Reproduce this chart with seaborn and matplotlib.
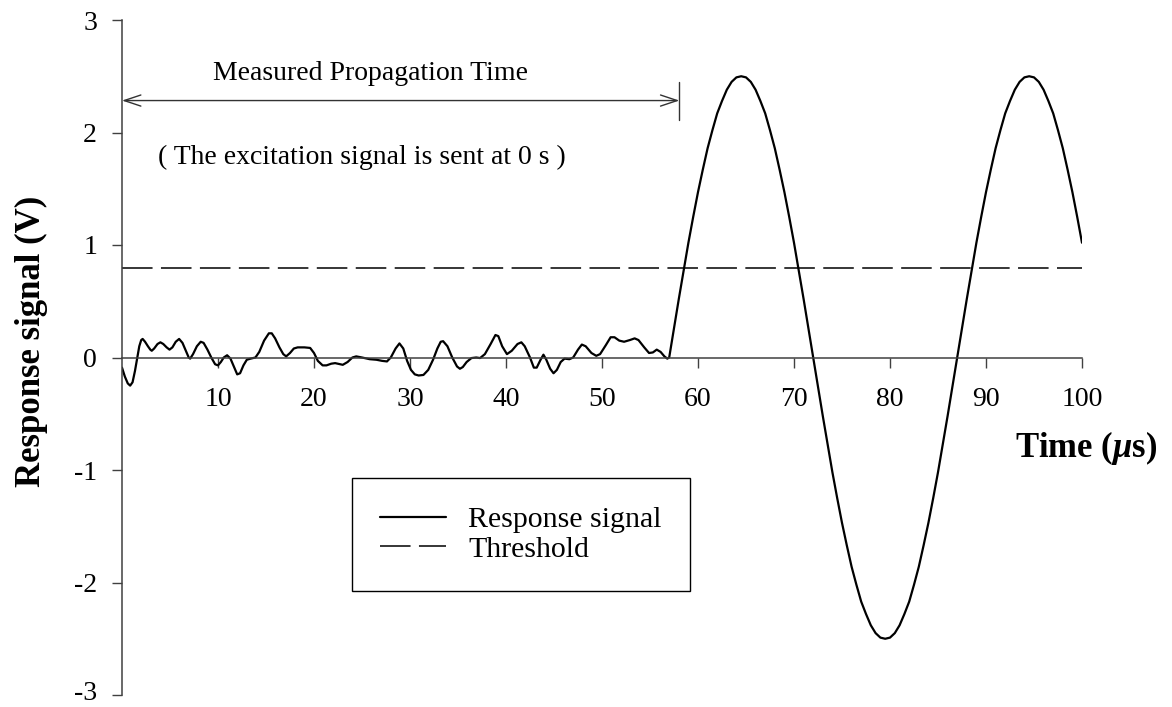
import numpy as np
import pandas as pd
import matplotlib
matplotlib.use("Agg")
import matplotlib.pyplot as plt
import matplotlib.transforms as mtransforms
import seaborn as sns

# ---------------- data ----------------
# noise part before the wave arrives (µs, V)
noise_time = [0.0, 0.3, 0.6, 0.85, 1.1, 1.35, 1.6, 1.8, 2.0, 2.15, 2.4, 2.7, 2.95, 3.1,
              3.35, 3.7, 4.0, 4.3, 4.65, 4.95, 5.25, 5.6, 5.95, 6.3, 6.7, 6.95, 7.1,
              7.4, 7.8, 8.2, 8.5, 8.9, 9.3, 9.7, 10.0, 10.3, 10.6, 10.95, 11.3, 11.7,
              12.0, 12.3, 12.65, 13.0, 13.4, 13.9, 14.3, 14.8, 15.3, 15.6, 15.95, 16.4,
              16.8, 17.1, 17.5, 17.9, 18.3, 19.0, 19.6, 20.0, 20.4, 20.9, 21.3, 21.8,
              22.2, 22.7, 23.0, 23.5, 24.0, 24.4, 25.0, 25.8, 26.5, 27.1, 27.6, 28.0,
              28.5, 28.9, 29.3, 29.7, 30.1, 30.5, 30.9, 31.4, 31.9, 32.4, 32.85, 33.2,
              33.45, 33.9, 34.4, 34.9, 35.2, 35.5, 35.9, 36.4, 36.9, 37.3, 37.8, 38.4,
              38.9, 39.2, 39.6, 40.1, 40.6, 41.2, 41.6, 41.95, 42.5, 42.9, 43.2, 43.6,
              43.9, 44.2, 44.6, 44.95, 45.3, 45.7, 46.1, 46.6, 47.0, 47.5, 47.9, 48.3,
              48.9, 49.4, 49.8, 50.4, 50.9, 51.3, 51.8, 52.3, 52.9, 53.4, 53.8, 54.4,
              54.9, 55.3, 55.7, 56.1, 56.5, 56.8]
noise_v = [-0.09, -0.17, -0.23, -0.25, -0.22, -0.12, 0.0, 0.10, 0.155, 0.165, 0.14, 0.10,
           0.07, 0.06, 0.08, 0.12, 0.135, 0.12, 0.09, 0.07, 0.09, 0.14, 0.165, 0.13, 0.05,
           0.0, -0.01, 0.03, 0.10, 0.14, 0.13, 0.07, 0.0, -0.06, -0.07, -0.04, 0.0, 0.02,
           -0.01, -0.09, -0.15, -0.14, -0.07, -0.02, -0.01, 0.0, 0.05, 0.15, 0.215, 0.215,
           0.17, 0.09, 0.03, 0.01, 0.04, 0.08, 0.09, 0.09, 0.085, 0.04, -0.03, -0.07,
           -0.07, -0.055, -0.05, -0.06, -0.065, -0.04, 0.0, 0.01, 0.0, -0.015, -0.02,
           -0.03, -0.035, 0.0, 0.08, 0.125, 0.08, -0.03, -0.11, -0.15, -0.16, -0.155,
           -0.11, -0.02, 0.08, 0.14, 0.145, 0.10, 0.0, -0.08, -0.10, -0.085, -0.04,
           -0.005, 0.0, -0.005, 0.03, 0.12, 0.20, 0.19, 0.10, 0.03, 0.06, 0.12, 0.135,
           0.10, 0.0, -0.09, -0.09, -0.02, 0.025, -0.02, -0.10, -0.14, -0.11, -0.04,
           -0.01, -0.015, 0.0, 0.07, 0.115, 0.10, 0.04, 0.015, 0.03, 0.11, 0.18, 0.18,
           0.15, 0.14, 0.155, 0.17, 0.155, 0.09, 0.04, 0.045, 0.07, 0.05, 0.01, -0.01]
# arriving wave (µs, V), read every 0.5 µs
wave_time = [57.0, 57.5, 58.0, 58.5, 59.0, 59.5, 60.0, 60.5, 61.0, 61.5, 62.0, 62.5,
             63.0, 63.5, 64.0, 64.5, 65.0, 65.5, 66.0, 66.5, 67.0, 67.5, 68.0, 68.5,
             69.0, 69.5, 70.0, 70.5, 71.0, 71.5, 72.0, 72.5, 73.0, 73.5, 74.0, 74.5,
             75.0, 75.5, 76.0, 76.5, 77.0, 77.5, 78.0, 78.5, 79.0, 79.5, 80.0, 80.5,
             81.0, 81.5, 82.0, 82.5, 83.0, 83.5, 84.0, 84.5, 85.0, 85.5, 86.0, 86.5,
             87.0, 87.5, 88.0, 88.5, 89.0, 89.5, 90.0, 90.5, 91.0, 91.5, 92.0, 92.5,
             93.0, 93.5, 94.0, 94.5, 95.0, 95.5, 96.0, 96.5, 97.0, 97.5, 98.0, 98.5,
             99.0, 99.5, 100.0]
wave_v = [0.0, 0.26, 0.52, 0.77, 1.02, 1.25, 1.47, 1.67, 1.86, 2.02, 2.17, 2.28,
          2.38, 2.45, 2.49, 2.50, 2.49, 2.45, 2.38, 2.28, 2.17, 2.02, 1.86, 1.67,
          1.47, 1.25, 1.02, 0.77, 0.52, 0.26, 0.0, -0.26, -0.52, -0.77, -1.02, -1.25,
          -1.47, -1.67, -1.86, -2.02, -2.17, -2.28, -2.38, -2.45, -2.49, -2.50, -2.49,
          -2.45, -2.38, -2.28, -2.17, -2.02, -1.86, -1.67, -1.47, -1.25, -1.02, -0.77,
          -0.52, -0.26, 0.0, 0.26, 0.52, 0.77, 1.02, 1.25, 1.47, 1.67, 1.86, 2.02,
          2.17, 2.28, 2.38, 2.45, 2.49, 2.50, 2.49, 2.45, 2.38, 2.28, 2.17, 2.02,
          1.86, 1.67, 1.47, 1.25, 1.02]
threshold_time = [0.0, 100.0]
threshold_v = [0.8, 0.8]

x_ticks = [10, 20, 30, 40, 50, 60, 70, 80, 90, 100]
y_ticks = [-3, -2, -1, 0, 1, 2, 3]
y_tick_labels = ["-3", "-2", "-1", "0", "1", "2", "3"]

measured_end = 58.06      # end of "Measured Propagation Time" arrow (µs)
arrow_level = 2.284

# ---------------- style ----------------
sns.set_style("ticks")
plt.rcParams["font.family"] = ["Liberation Serif", "DejaVu Serif"]
plt.rcParams["text.color"] = "black"
plt.rcParams["xtick.labelcolor"] = "black"
plt.rcParams["ytick.labelcolor"] = "black"
plt.rcParams["mathtext.fontset"] = "custom"
plt.rcParams["mathtext.it"] = "Liberation Serif:italic:bold"
plt.rcParams["mathtext.rm"] = "Liberation Serif:bold"
plt.rcParams["mathtext.bf"] = "Liberation Serif:bold"

fig = plt.figure(figsize=(11.72, 7.07), dpi=100)
ax = fig.add_axes([122 / 1172, 1 - 695 / 707, 960 / 1172, 675 / 707])

sig = pd.DataFrame({"t": noise_time + wave_time, "v": noise_v + wave_v})
thr = pd.DataFrame({"t": threshold_time, "v": threshold_v})

sns.lineplot(data=sig, x="t", y="v", ax=ax, color="black", lw=1.6,
             estimator=None, sort=False, label="Response signal")
sns.lineplot(data=thr, x="t", y="v", ax=ax, color="black", lw=1.1,
             estimator=None, sort=False, label="Threshold")
ax.lines[0].set_solid_joinstyle("round")
ax.lines[-1].set_dashes((20, 5.5))

ax.set_xlim(0, 100)
ax.set_ylim(-3, 3)

axis_color = "#404040"
for s in ["top", "right"]:
    ax.spines[s].set_visible(False)
ax.spines["left"].set_position(("data", 0))
ax.spines["bottom"].set_position(("data", 0))
for s in ["left", "bottom"]:
    ax.spines[s].set_color(axis_color)
    ax.spines[s].set_linewidth(1.1)

ax.set_xticks(x_ticks)
ax.set_xticklabels([str(v) for v in x_ticks])
ax.set_yticks(y_ticks)
ax.set_yticklabels(y_tick_labels)
ax.tick_params(axis="x", direction="out", length=7, width=1, color=axis_color,
               labelsize=20, pad=14, labelcolor="black")
ax.tick_params(axis="y", direction="out", length=7, width=1, color=axis_color,
               labelsize=20, pad=11, labelcolor="black")
ax.set_xlabel("")
ax.set_ylabel("")

# keep the lowest y tick label fully inside the canvas
lowest = ax.get_yticklabels()[0]
lowest.set_transform(lowest.get_transform() +
                     mtransforms.ScaledTranslation(0, 3 / 72, fig.dpi_scale_trans))

# axis titles
fig.text(31 / 1172, 1 - 341 / 707, "Response signal (V)", rotation=90,
         ha="center", va="center", fontsize=25, fontweight="bold", color="black")
fig.text(1086 / 1172, 1 - 457 / 707, r"Time ($\mu$s)", ha="center",
         va="baseline", fontsize=25, fontweight="bold", color="black")

# annotation
ax.annotate("", xy=(0, arrow_level), xytext=(measured_end, arrow_level),
            arrowprops=dict(arrowstyle="<->,head_length=0.6,head_width=0.2",
                            mutation_scale=20, color="#333333", lw=1,
                            shrinkA=0, shrinkB=0))
ax.plot([measured_end, measured_end], [2.11, 2.45], color="#333333", lw=1)
ax.text(25.9, 2.52, "Measured Propagation Time", ha="center", va="center",
        fontsize=20, color="black")
ax.text(25.0, 1.78, "( The excitation signal is sent at 0 s )", ha="center",
        va="center", fontsize=20, color="black")

leg = ax.legend(loc="upper left", bbox_to_anchor=(352 / 1172, 1 - 478 / 707),
                bbox_transform=fig.transFigure, fontsize=21.5, frameon=True,
                fancybox=False, framealpha=1, edgecolor="black",
                handlelength=2.2, handletextpad=0.75, labelspacing=0.08,
                borderpad=0.95, borderaxespad=0)
leg.get_frame().set_linewidth(1)
for t in leg.get_texts():
    t.set_color("black")

fig.savefig("out.png", dpi=100)
